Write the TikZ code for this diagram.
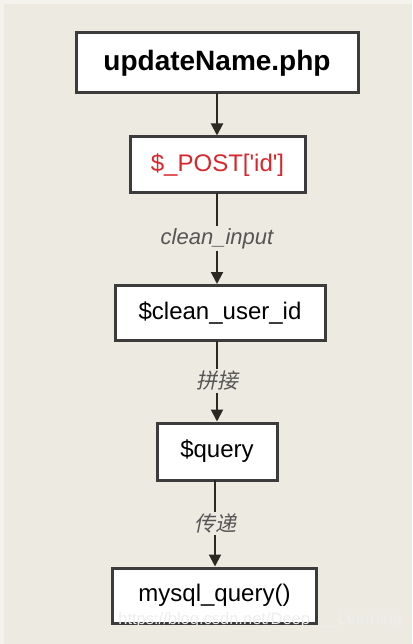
\documentclass[tikz,border=0pt]{standalone}
\usepackage{fontspec}
\setmainfont{Liberation Sans}
\newfontfamily\cjk[FakeSlant=0.2]{Noto Sans CJK SC}
\usetikzlibrary{arrows.meta,calc}
\definecolor{bg}{HTML}{ECEAE1}
\definecolor{bgedge}{HTML}{F3F2EC}
\definecolor{boxline}{HTML}{3C3C3C}
\definecolor{arrowc}{HTML}{2A2A22}
\definecolor{redtext}{HTML}{D8262B}
\definecolor{labelc}{HTML}{555555}
\definecolor{wm}{HTML}{EEEEEE}
\tikzset{
  box/.style={draw=boxline, line width=3pt, fill=white, inner sep=0pt, align=center, font=\fontsize{24}{26}\selectfont},
  link/.style={draw=arrowc, line width=2pt, -{Triangle[length=12pt,width=12pt]}},
  lbl/.style={fill=bg, inner sep=2pt, text=labelc, font=\fontsize{22}{24}\selectfont\itshape},
  clbl/.style={fill=bg, inner sep=2pt, text=labelc, font=\fontsize{21}{24}\selectfont\cjk},
}
\begin{document}
\begin{tikzpicture}[x=1pt,y=-1pt]
\useasboundingbox (0,0) rectangle (412,644);
\fill[bgedge] (0,0) rectangle (412,644);
\fill[bg] (4,4) rectangle (412,644);

\node[box, minimum width=282pt, minimum height=60pt, font=\fontsize{28}{30}\selectfont\bfseries] (b1) at (217,63) {updateName.php};
\node[box, minimum width=175pt, minimum height=56pt, text=redtext] (b2) at (217.5,165) {\$\_POST[\textquotesingle id\textquotesingle]};
\node[box, minimum width=210pt, minimum height=55pt] (b3) at (220,313) {\$clean\_user\_id};
\node[box, minimum width=120pt, minimum height=57pt] (b4) at (217,451.5) {\$query};
\node[box, minimum width=204pt, minimum height=55pt] (b5) at (214.5,595.5) {mysql\_query()};

\coordinate (e1) at (217,93);
\coordinate (e2) at (217,193.5);
\coordinate (e3) at (217,340.5);
\coordinate (e4) at (215,480);

\draw[link] (e1) -- (e1 |- b2.north);
\draw[link] (e2) -- (e2 |- b3.north) node[lbl, pos=0.5] (l1) {clean\_input};
\draw[link] (e3) -- (e3 |- b4.north) node[clbl, pos=0.5] (l2) {拼接};
\draw[link] (e4) -- (e4 |- b5.north) node[clbl, pos=0.5] (l3) {传递};

\node[anchor=east, text=wm, font=\fontsize{16.5}{18}\selectfont, inner sep=0pt] (wmk) at (402,620) {https://blog.csdn.net/Deep\_\_\_Learning};
\end{tikzpicture}
\end{document}
